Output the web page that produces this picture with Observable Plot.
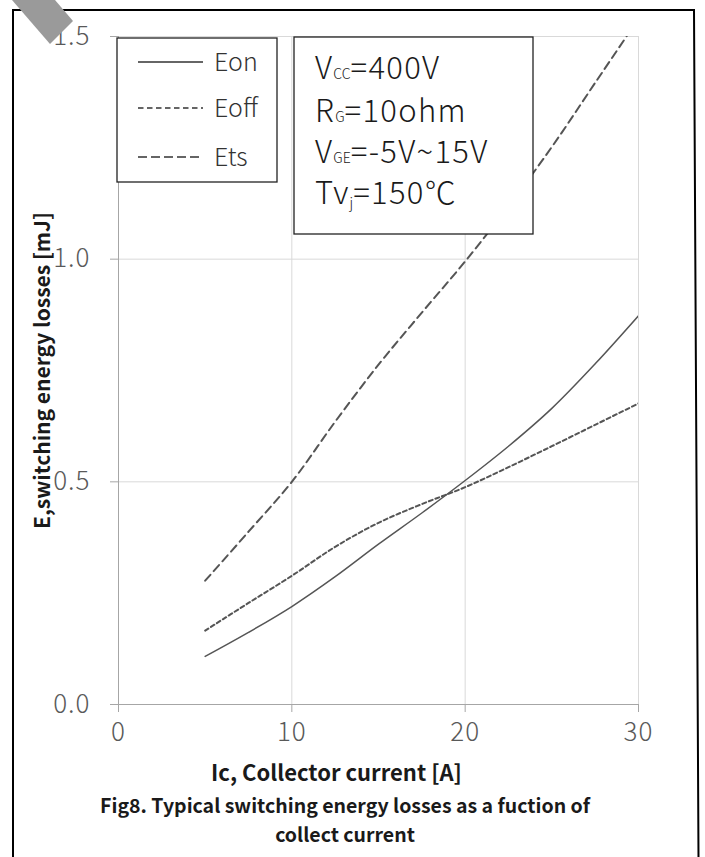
<!DOCTYPE html>
<html><head><meta charset="utf-8">
<script src="https://cdn.jsdelivr.net/npm/d3@7"></script>
<script src="https://cdn.jsdelivr.net/npm/@observablehq/plot@0.6"></script>
<style>
body{margin:0;background:#fff;}
#wrap{position:relative;width:705px;height:857px;overflow:hidden;font-family:"Noto Sans CJK SC","Noto Sans",sans-serif;}
#chart{position:absolute;left:0;top:0;}
#caption{position:absolute;left:0;top:790px;width:690px;text-align:center;font-weight:bold;font-size:19.5px;line-height:29px;color:#1a1a1a;}
#overlay{position:absolute;left:0;top:0;pointer-events:none;}
</style></head><body>
<div id="wrap">
<div id="chart"></div>
<div id="caption">Fig8. Typical switching energy losses as a fuction of<br>collect current</div>
<svg id="overlay" width="705" height="857" font-family="'Noto Sans CJK SC','Noto Sans',sans-serif">
  <path d="M13,857 L13,10 L694,10 L698.5,857" fill="none" stroke="#000" stroke-width="2"/>
  <polygon points="12,0 55,0 73,21 50,44" fill="#9a9a9a"/>
  <g id="legend"></g>
  <g id="info"></g>
</svg>
</div>
<script>
// ---- data ----
const currents = [5, 7.5, 10, 12.5, 15, 17.5, 20, 22.5, 25, 27.5, 30];
const eon  = [0.108, 0.162, 0.220, 0.287, 0.360, 0.430, 0.503, 0.580, 0.665, 0.765, 0.873];
const eoff = [0.166, 0.228, 0.289, 0.354, 0.408, 0.450, 0.488, 0.533, 0.580, 0.628, 0.676];
const ets  = [0.278, 0.388, 0.500, 0.635, 0.763, 0.880, 0.995, 1.119, 1.252, 1.396, 1.540];
const seriesNames = ["Eon", "Eoff", "Ets"];
const xTicks = [0, 10, 20, 30];
const yTicks = [0, 0.5, 1.0, 1.5];
const xGrid = [10, 20, 30];
const yGrid = [0.5, 1.0, 1.5];
const infoLines = [
  ["V", "CC", "=400V"],
  ["R", "G", "=10ohm"],
  ["V", "GE", "=-5V~15V"],
  ["Tv", "j", "=150℃"]
];
const xLabel = "Ic, Collector current [A]";
const yLabel = "E,switching energy losses [mJ]";

const toRows = (vals) => currents.map((c, i) => ({ic: c, e: vals[i]}));
const styles = {
  Eon:  {stroke: "#555", strokeWidth: 1.5, dash: null, legDash: null},
  Eoff: {stroke: "#555", strokeWidth: 2, dash: "4,3", legDash: "5.5,3.5"},
  Ets:  {stroke: "#555", strokeWidth: 2, dash: "8,5", legDash: "9,4"}
};
const seriesVals = {Eon: eon, Eoff: eoff, Ets: ets};

const font = "'Noto Sans CJK SC','Noto Sans',sans-serif";
const plot = Plot.plot({
  width: 705, height: 790,
  marginTop: 36, marginBottom: 86, marginLeft: 118, marginRight: 67,
  x: {domain: [0, 30]},
  y: {domain: [0, 1.5]},
  style: {fontFamily: font, background: "transparent", overflow: "visible"},
  marks: [
    Plot.ruleY(yGrid, {stroke: "#d9d9d9", strokeWidth: 1}),
    Plot.ruleX(xGrid, {stroke: "#d9d9d9", strokeWidth: 1}),
    Plot.axisX(xTicks, {tickSize: 8, tickPadding: 10, color: "#a6a6a6", fontSize: 26, label: null, tickFormat: d => String(d)}),
    Plot.axisY(yTicks, {tickSize: 8, tickPadding: 20, color: "#a6a6a6", fontSize: 26, label: null, tickFormat: ".1f"}),
    Plot.ruleX([0], {stroke: "#a6a6a6"}),
    Plot.ruleY([0], {stroke: "#a6a6a6"}),
    ...seriesNames.map(n => Plot.line(toRows(seriesVals[n]), {
      x: "ic", y: "e", stroke: styles[n].stroke, strokeWidth: styles[n].strokeWidth,
      strokeDasharray: styles[n].dash, curve: "catmull-rom", clip: true
    })),
    Plot.text([xLabel], {frameAnchor: "bottom", textAnchor: "middle", dx: -42, dy: 76, fontSize: 22, fontWeight: "bold", fill: "#1a1a1a"}),
    Plot.text([yLabel], {frameAnchor: "left", textAnchor: "middle", rotate: -90, dx: -75, fontSize: 21, fontWeight: "bold", fill: "#1a1a1a"})
  ]
});
d3.select(plot).selectAll('g[aria-label$="tick label"]').attr("fill", "#595959").attr("font-weight", 300).attr("letter-spacing", "1px");
document.getElementById("chart").appendChild(plot);

// legend box
const leg = d3.select("#legend");
leg.append("rect").attr("x", 117).attr("y", 38).attr("width", 160).attr("height", 144)
  .attr("fill", "#fff").attr("stroke", "#222").attr("stroke-width", 1.3);
const legY = [62, 108, 157];
seriesNames.forEach((n, i) => {
  leg.append("line").attr("x1", 138).attr("x2", 203).attr("y1", legY[i]).attr("y2", legY[i])
    .attr("stroke", "#333").attr("stroke-width", 1.3).attr("stroke-dasharray", styles[n].legDash);
  leg.append("text").attr("x", 214).attr("y", legY[i]).attr("dy", "0.36em")
    .attr("font-size", 25).attr("font-weight", 300).attr("fill", "#333").text(n);
});

// info box
const info = d3.select("#info");
info.append("rect").attr("x", 294).attr("y", 37).attr("width", 239).attr("height", 197)
  .attr("fill", "#fff").attr("stroke", "#222").attr("stroke-width", 1.3);
const infoY = [79, 122, 163, 204];
infoLines.forEach((ln, i) => {
  const t = info.append("text").attr("x", 315).attr("y", infoY[i]).attr("font-size", 31)
    .attr("font-weight", 300).attr("fill", "#1a1a1a").attr("letter-spacing", "1.3px");
  t.append("tspan").text(ln[0]);
  const sub = ln[1] === "j";
  t.append("tspan").attr("font-size", 14).attr("letter-spacing", "0px").attr("dy", sub ? 4 : 0).text(ln[1]);
  t.append("tspan").attr("dy", sub ? -4 : 0).text(ln[2]);
});
</script>
</body></html>
